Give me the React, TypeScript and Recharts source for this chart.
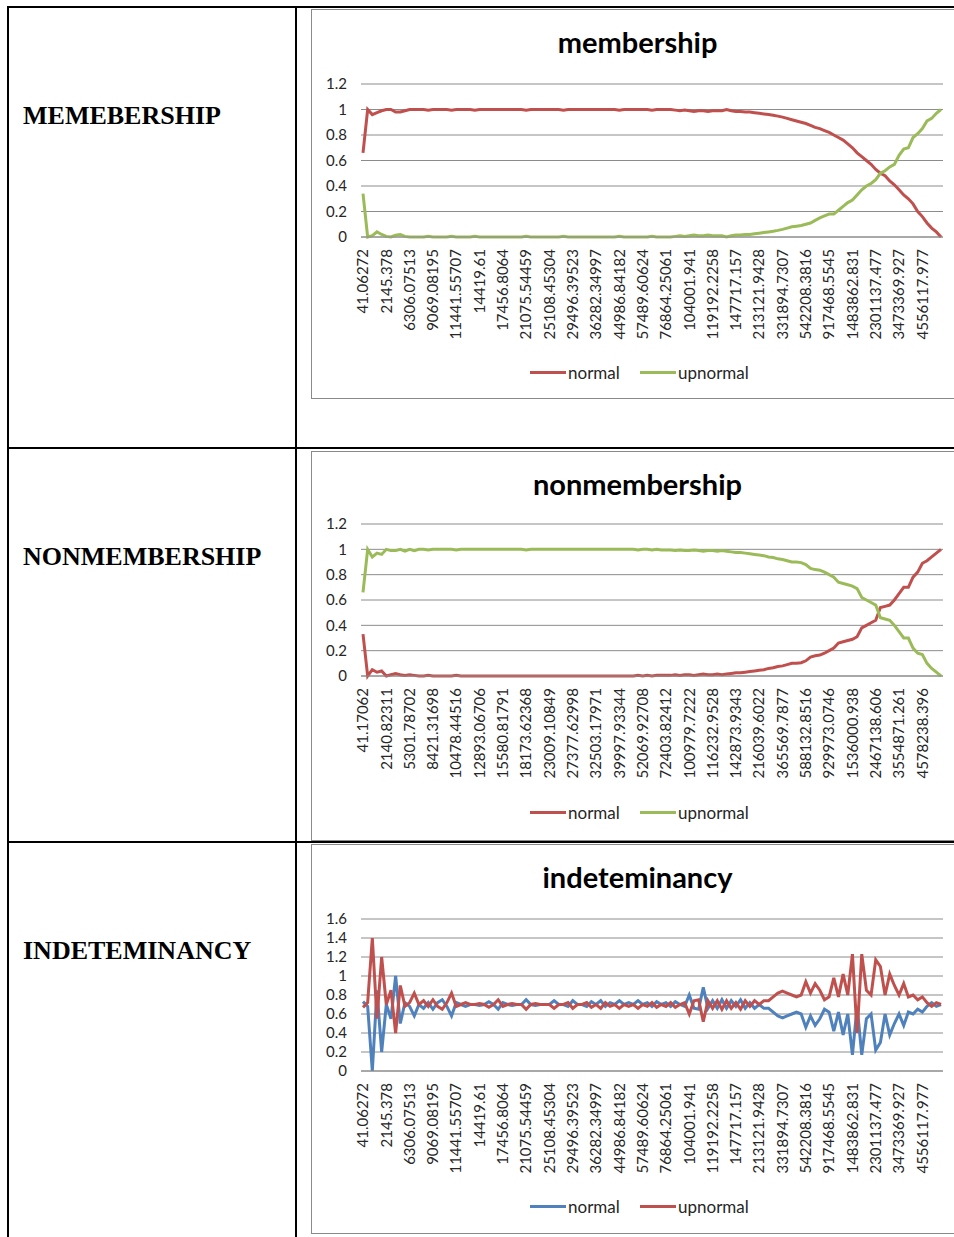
import { CartesianGrid, Line, LineChart, XAxis, YAxis } from "recharts";

const RED = "#C0504D";
const GREEN = "#9BBB59";
const BLUE = "#4F81BD";
const GRID = "#8c8c8c";
const TEXT = "#262626";

// x labels, one shown for every 5th point
const membershipLabels = [
  "41.06272", "2145.378", "6306.07513", "9069.08195", "11441.55707", "14419.61", "17456.8064",
  "21075.54459", "25108.45304", "29496.39523", "36282.34997", "44986.84182", "57489.60624",
  "76864.25061", "104001.941", "119192.2258", "147717.157", "213121.9428", "331894.7307",
  "542208.3816", "917468.5545", "1483862.831", "2301137.477", "3473369.927", "4556117.977",
];
const nonmembershipLabels = [
  "41.17062", "2140.82311", "5301.78702", "8421.31698", "10478.44516", "12893.06706", "15580.81791",
  "18173.62368", "23009.10849", "27377.62998", "32503.17971", "39997.93344", "52069.92708",
  "72403.82412", "100979.7222", "116232.9528", "142873.9343", "216039.6022", "365569.7877",
  "588132.8516", "929973.0746", "1536000.938", "2467138.606", "3554871.261", "4578238.396",
];

const membershipNormal = [
  0.66, 1.0, 0.96, 0.975, 0.99, 1.0, 1.0, 0.98, 0.98, 0.99,
  1.0, 1.0, 1.0, 1.0, 0.995, 1.0, 1.0, 1.0, 1.0, 0.995,
  1.0, 1.0, 1.0, 1.0, 0.995, 1.0, 1.0, 1.0, 1.0, 1.0,
  1.0, 1.0, 1.0, 1.0, 1.0, 0.995, 1.0, 1.0, 1.0, 1.0,
  1.0, 1.0, 1.0, 0.995, 1.0, 1.0, 1.0, 1.0, 1.0, 1.0,
  1.0, 1.0, 1.0, 1.0, 1.0, 0.995, 1.0, 1.0, 1.0, 1.0,
  1.0, 1.0, 0.995, 1.0, 1.0, 1.0, 1.0, 0.995, 0.99, 0.995,
  0.99, 0.985, 0.99, 0.99, 0.985, 0.99, 0.99, 0.99, 1.0, 0.99,
  0.985, 0.985, 0.98, 0.98, 0.975, 0.97, 0.965, 0.96, 0.955, 0.948,
  0.94, 0.93, 0.92, 0.91, 0.9, 0.89, 0.875, 0.86, 0.85, 0.835,
  0.82, 0.8, 0.78, 0.76, 0.73, 0.7, 0.66, 0.63, 0.6, 0.57,
  0.53, 0.5, 0.48, 0.44, 0.41, 0.37, 0.33, 0.3, 0.26, 0.2,
  0.16, 0.11, 0.07, 0.04, 0.0,
];
const membershipUpnormal = [
  0.34, 0.0, 0.01, 0.04, 0.02, 0.005, 0.0, 0.015, 0.02, 0.005,
  0.0, 0.0, 0.0, 0.0, 0.005, 0.0, 0.0, 0.0, 0.0, 0.005,
  0.0, 0.0, 0.0, 0.0, 0.005, 0.0, 0.0, 0.0, 0.0, 0.0,
  0.0, 0.0, 0.0, 0.0, 0.0, 0.005, 0.0, 0.0, 0.0, 0.0,
  0.0, 0.0, 0.0, 0.005, 0.0, 0.0, 0.0, 0.0, 0.0, 0.0,
  0.0, 0.0, 0.0, 0.0, 0.0, 0.005, 0.0, 0.0, 0.0, 0.0,
  0.0, 0.0, 0.005, 0.0, 0.0, 0.0, 0.0, 0.005, 0.01, 0.005,
  0.01, 0.015, 0.01, 0.01, 0.015, 0.01, 0.01, 0.01, 0.0, 0.01,
  0.015, 0.015, 0.02, 0.02, 0.025, 0.03, 0.035, 0.04, 0.045, 0.052,
  0.06, 0.07, 0.08, 0.085, 0.09, 0.1, 0.11, 0.13, 0.15, 0.165,
  0.18, 0.18, 0.21, 0.24, 0.27, 0.29, 0.33, 0.37, 0.4, 0.42,
  0.45, 0.5, 0.52, 0.55, 0.57, 0.64, 0.69, 0.7, 0.78, 0.81,
  0.85, 0.91, 0.93, 0.97, 1.0,
];

const nonmembershipNormal = [
  0.33, 0.0, 0.05, 0.03, 0.04, 0.0, 0.01, 0.02, 0.01, 0.005,
  0.01, 0.005, 0.0, 0.0, 0.005, 0.0, 0.0, 0.0, 0.0, 0.0,
  0.005, 0.0, 0.0, 0.0, 0.0, 0.0, 0.0, 0.0, 0.0, 0.0,
  0.0, 0.0, 0.0, 0.0, 0.0, 0.0, 0.0, 0.0, 0.0, 0.0,
  0.0, 0.0, 0.0, 0.0, 0.0, 0.0, 0.0, 0.0, 0.0, 0.0,
  0.0, 0.0, 0.0, 0.0, 0.0, 0.0, 0.0, 0.0, 0.0, 0.005,
  0.0, 0.005, 0.0, 0.005, 0.005, 0.005, 0.005, 0.01, 0.005, 0.01,
  0.01, 0.005, 0.01, 0.015, 0.01, 0.01, 0.015, 0.01, 0.015, 0.02,
  0.025, 0.025, 0.03, 0.035, 0.04, 0.045, 0.05, 0.06, 0.065, 0.075,
  0.08, 0.09, 0.1, 0.1, 0.105, 0.12, 0.15, 0.16, 0.165, 0.18,
  0.2, 0.22, 0.26, 0.27, 0.28, 0.29, 0.31, 0.38, 0.4, 0.42,
  0.44, 0.54, 0.55, 0.56, 0.6, 0.65, 0.7, 0.7, 0.78, 0.82,
  0.89, 0.91, 0.94, 0.97, 1.0,
];
const nonmembershipUpnormal = [
  0.66, 1.0, 0.94, 0.97, 0.96, 1.0, 0.99, 0.99, 1.0, 0.985,
  1.0, 0.99, 1.0, 1.0, 0.995, 1.0, 1.0, 1.0, 1.0, 1.0,
  0.995, 1.0, 1.0, 1.0, 1.0, 1.0, 1.0, 1.0, 1.0, 1.0,
  1.0, 1.0, 1.0, 1.0, 1.0, 0.995, 1.0, 1.0, 1.0, 1.0,
  1.0, 1.0, 1.0, 1.0, 1.0, 1.0, 1.0, 1.0, 1.0, 1.0,
  1.0, 1.0, 1.0, 1.0, 1.0, 1.0, 1.0, 1.0, 1.0, 0.995,
  1.0, 1.0, 0.995, 1.0, 0.995, 0.995, 0.995, 0.99, 0.995, 0.99,
  0.99, 0.995, 0.99, 0.985, 0.99, 0.99, 0.985, 0.99, 0.985, 0.98,
  0.975, 0.975, 0.97, 0.965, 0.96, 0.955, 0.95, 0.94, 0.935, 0.925,
  0.92, 0.91, 0.9, 0.9, 0.895, 0.88, 0.85, 0.84, 0.835, 0.82,
  0.8, 0.78, 0.74, 0.73, 0.72, 0.71, 0.69, 0.62, 0.6, 0.58,
  0.56, 0.46, 0.45, 0.44, 0.4, 0.35, 0.3, 0.3, 0.22, 0.18,
  0.17, 0.1, 0.06, 0.03, 0.0,
];

const indeterminacyNormal = [
  0.73, 0.68, 0.0, 0.85, 0.2, 0.7, 0.55, 1.0, 0.5, 0.72,
  0.68, 0.58, 0.7, 0.66, 0.72, 0.65, 0.72, 0.75, 0.68, 0.58,
  0.72, 0.7, 0.68, 0.7, 0.7, 0.69, 0.7, 0.73, 0.7, 0.65,
  0.72, 0.7, 0.69, 0.7, 0.7, 0.75, 0.7, 0.69, 0.7, 0.7,
  0.7, 0.74, 0.7, 0.7, 0.68, 0.74, 0.7, 0.7, 0.68, 0.73,
  0.7, 0.74, 0.68, 0.72, 0.7, 0.74, 0.7, 0.72, 0.7, 0.74,
  0.7, 0.72, 0.68, 0.73, 0.7, 0.72, 0.68, 0.73, 0.7, 0.68,
  0.8, 0.66, 0.65, 0.88, 0.66, 0.74, 0.66, 0.75, 0.66, 0.74,
  0.68, 0.75, 0.66, 0.72, 0.66, 0.7, 0.66, 0.66, 0.62, 0.58,
  0.56, 0.58, 0.6, 0.62, 0.6, 0.46, 0.58, 0.48, 0.55, 0.65,
  0.62, 0.42, 0.62, 0.38, 0.6, 0.17, 0.68, 0.17, 0.55, 0.6,
  0.22, 0.3, 0.6, 0.38, 0.5, 0.6, 0.48, 0.62, 0.6, 0.65,
  0.62, 0.68, 0.72, 0.68, 0.7,
];
const indeterminacyUpnormal = [
  0.67, 0.72, 1.4, 0.55, 1.2, 0.7, 0.85, 0.4, 0.9, 0.68,
  0.72, 0.82, 0.7, 0.74, 0.68, 0.75, 0.68, 0.65, 0.72, 0.82,
  0.68, 0.7, 0.72, 0.7, 0.7, 0.71, 0.7, 0.67, 0.7, 0.75,
  0.68, 0.7, 0.71, 0.7, 0.7, 0.65, 0.7, 0.71, 0.7, 0.7,
  0.7, 0.66, 0.7, 0.7, 0.72, 0.66, 0.7, 0.7, 0.72, 0.67,
  0.7, 0.66, 0.72, 0.68, 0.7, 0.66, 0.7, 0.68, 0.7, 0.66,
  0.7, 0.68, 0.72, 0.67, 0.7, 0.68, 0.72, 0.67, 0.7, 0.72,
  0.6, 0.74, 0.75, 0.52, 0.74, 0.66, 0.74, 0.65, 0.74, 0.66,
  0.72, 0.65, 0.74, 0.68, 0.74, 0.7, 0.74, 0.74, 0.78, 0.82,
  0.84, 0.82, 0.8, 0.78, 0.8, 0.94, 0.82, 0.92, 0.85, 0.75,
  0.78, 0.98, 0.78, 1.02, 0.8, 1.23, 0.4, 1.23, 0.85, 0.8,
  1.17, 1.1, 0.8, 1.02, 0.9, 0.8, 0.92, 0.78, 0.8, 0.75,
  0.78, 0.72, 0.68, 0.72, 0.7,
];

const ticks12 = [0, 0.2, 0.4, 0.6, 0.8, 1, 1.2];
const ticks16 = [0, 0.2, 0.4, 0.6, 0.8, 1, 1.2, 1.4, 1.6];

const makeRows = (normal: number[], upnormal: number[]) =>
  normal.map((value, i) => ({ i, normal: value, upnormal: upnormal[i] }));

const makeTick = (labels: string[]) => (props: any) => {
  const { x, y, payload } = props;
  const idx = Number(payload.value);
  if (idx % 5 !== 0 || !labels[idx / 5]) return <g />;
  const ty = y + 12;
  return (
    <text
      x={x}
      y={ty}
      dy="0.35em"
      transform={`rotate(-90, ${x}, ${ty})`}
      textAnchor="end"
      fill={TEXT}
      fontSize={15}
      fontFamily="Lato, sans-serif"
    >
      {labels[idx / 5]}
    </text>
  );
};

type PanelProps = {
  top: number;
  plotTop: number;
  plotBottom: number;
  legendY: number;
  labelY: number;
  title: string;
  rowLabel: string;
  labels: string[];
  normal: number[];
  upnormal: number[];
  normalColor: string;
  upnormalColor: string;
  yTicks: number[];
};

const Panel = (p: PanelProps) => {
  const data = makeRows(p.normal, p.upnormal);
  const frameHeight = 390;
  const chartHeight = p.plotBottom - p.top + 110;
  return (
    <>
      <div
        style={{
          position: "absolute",
          left: 23,
          top: p.labelY - 12,
          fontFamily: "'Liberation Serif', 'Times New Roman', serif",
          fontWeight: "bold",
          fontSize: 26,
          lineHeight: "26px",
          color: "#000",
          whiteSpace: "nowrap",
        }}
      >
        {p.rowLabel}
      </div>
      <div
        style={{
          position: "absolute",
          left: 311,
          top: p.top,
          width: 700,
          height: frameHeight,
          border: "1px solid #8a8a8a",
          boxSizing: "border-box",
        }}
      />
      <div
        style={{
          position: "absolute",
          left: 311,
          width: 643,
          top: p.top + 17,
          textAlign: "center",
          paddingLeft: 10,
          boxSizing: "border-box",
          fontFamily: "Lato, sans-serif",
          fontWeight: "bold",
          fontSize: 29,
          lineHeight: "32px",
          color: "#000",
        }}
      >
        {p.title}
      </div>
      <div style={{ position: "absolute", left: 311, top: p.top }}>
        <LineChart
          width={643}
          height={chartHeight}
          data={data}
          margin={{ top: p.plotTop - p.top, right: 11, bottom: 0, left: 0 }}
        >
          <CartesianGrid vertical={false} stroke={GRID} strokeWidth={1} />
          <XAxis
            dataKey="i"
            type="category"
            interval={0}
            height={110}
            tickLine={false}
            tickSize={0}
            tickMargin={0}
            axisLine={{ stroke: GRID }}
            padding={{ left: 2, right: 2 }}
            tick={makeTick(p.labels)}
          />
          <YAxis
            width={50}
            domain={[0, p.yTicks[p.yTicks.length - 1]]}
            ticks={p.yTicks}
            interval={0}
            tickLine={false}
            axisLine={false}
            tickMargin={8}
            tick={{ fill: TEXT, fontSize: 15, fontFamily: "Lato, sans-serif" }}
          />
          <Line dataKey="normal" type="linear" stroke={p.normalColor} strokeWidth={3} dot={false} isAnimationActive={false} />
          <Line dataKey="upnormal" type="linear" stroke={p.upnormalColor} strokeWidth={3} dot={false} isAnimationActive={false} />
        </LineChart>
      </div>
      {[
        { name: "normal", color: p.normalColor, left: 530 },
        { name: "upnormal", color: p.upnormalColor, left: 640 },
      ].map((item) => (
        <div
          key={item.name}
          style={{
            position: "absolute",
            left: item.left,
            top: p.legendY - 10,
            height: 20,
            display: "flex",
            alignItems: "center",
            fontFamily: "Lato, sans-serif",
            fontSize: 17,
            color: TEXT,
          }}
        >
          <span style={{ display: "inline-block", width: 36, height: 3, background: item.color, marginRight: 2 }} />
          {item.name}
        </div>
      ))}
    </>
  );
};

const line = (left: number, top: number, width: number, height: number) => (
  <div style={{ position: "absolute", left, top, width, height, background: "#000" }} />
);

export default function App() {
  return (
    <div style={{ position: "absolute", left: 0, top: 0, width: 954, height: 1237, background: "#fff", overflow: "hidden" }}>
      {line(7, 6, 947, 2)}
      {line(7, 6, 2, 1231)}
      {line(295, 6, 2, 1231)}
      {line(7, 447, 947, 2)}
      {line(7, 841, 947, 2)}
      <Panel
        top={9}
        plotTop={84}
        plotBottom={237}
        legendY={372}
        labelY={115}
        title="membership"
        rowLabel="MEMEBERSHIP"
        labels={membershipLabels}
        normal={membershipNormal}
        upnormal={membershipUpnormal}
        normalColor={RED}
        upnormalColor={GREEN}
        yTicks={ticks12}
      />
      <Panel
        top={451}
        plotTop={524}
        plotBottom={676}
        legendY={812}
        labelY={556}
        title="nonmembership"
        rowLabel="NONMEMBERSHIP"
        labels={nonmembershipLabels}
        normal={nonmembershipNormal}
        upnormal={nonmembershipUpnormal}
        normalColor={RED}
        upnormalColor={GREEN}
        yTicks={ticks12}
      />
      <Panel
        top={844}
        plotTop={919}
        plotBottom={1071}
        legendY={1206}
        labelY={950}
        title="indeteminancy"
        rowLabel="INDETEMINANCY"
        labels={membershipLabels}
        normal={indeterminacyNormal}
        upnormal={indeterminacyUpnormal}
        normalColor={BLUE}
        upnormalColor={RED}
        yTicks={ticks16}
      />
    </div>
  );
}
